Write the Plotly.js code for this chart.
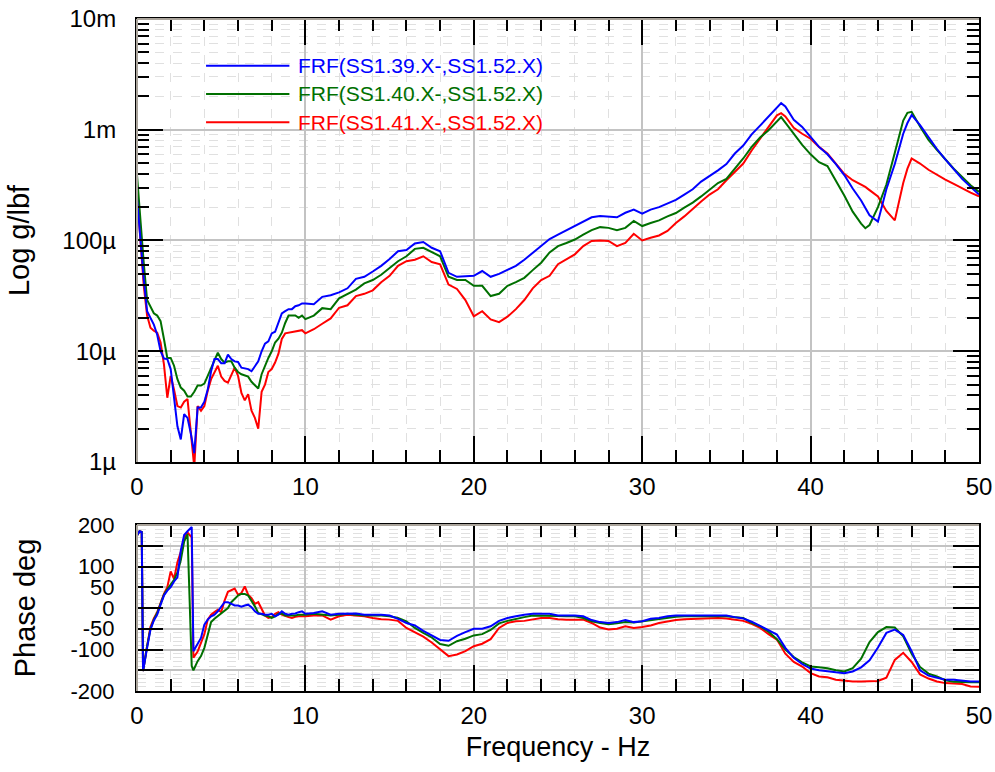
<!DOCTYPE html>
<html><head><meta charset="utf-8">
<script src="https://cdn.plot.ly/plotly-3.0.1.min.js"></script>
<style>html,body{margin:0;padding:0;background:#fff}</style>
</head><body><div id="chart" style="width:995px;height:772px"></div>
<script>
// ---------- data ----------
const magFreq = [0,0.2,0.4,0.6,0.8,1,1.2,1.4,1.6,1.8,2,2.2,2.4,2.6,2.8,3,3.2,3.4,3.6,3.8,4,4.2,4.4,4.6,4.8,5,5.2,5.4,5.6,5.8,6,6.2,6.4,6.6,6.8,7,7.2,7.4,7.6,7.8,8,8.2,8.4,8.6,8.8,9,9.2,9.4,9.6,9.8,10,
  10.5,11,11.5,12,12.5,13,13.5,14,14.5,15,15.5,16,16.5,17,17.5,18,18.5,19,19.5,20,20.5,21,21.5,22,22.5,23,23.5,24,24.5,25,25.5,26,26.5,27,27.5,28,28.5,29,29.5,30,
  30.5,31,31.5,32,32.5,33,33.5,34,34.5,35,35.5,36,36.5,37,37.5,38,38.25,38.5,39,39.5,40,40.5,41,41.5,42,42.5,43,43.25,43.5,44,44.5,45,45.5,45.75,46,46.5,47,47.5,48,48.5,49,49.5,50];

const magBlue = [2.43e-4,9.5e-5,4.5e-5,2.3e-5,2.0e-5,1.74e-5,1.41e-5,1.0e-5,8.6e-6,8.5e-6,6.9e-6,3.7e-6,2.1e-6,1.6e-6,2.7e-6,2.5e-6,1.8e-6,1.2e-6,3.1e-6,3.1e-6,3.5e-6,4.5e-6,6.6e-6,8.5e-6,8.5e-6,7.8e-6,7.8e-6,9.3e-6,8.5e-6,8.1e-6,8.0e-6,7.1e-6,7.0e-6,6.9e-6,6.6e-6,7.4e-6,8.1e-6,1.0e-5,1.17e-5,1.23e-5,1.45e-5,1.5e-5,1.8e-5,2.2e-5,2.3e-5,2.4e-5,2.4e-5,2.55e-5,2.6e-5,2.7e-5,2.7e-5,
  2.66e-5,3.1e-5,3.2e-5,3.4e-5,3.7e-5,4.5e-5,4.7e-5,5.25e-5,5.9e-5,6.8e-5,8.0e-5,8.2e-5,9.4e-5,9.7e-5,8.6e-5,8.0e-5,5.1e-5,4.7e-5,4.75e-5,4.8e-5,5.3e-5,4.7e-5,5.0e-5,5.4e-5,5.9e-5,6.7e-5,7.7e-5,8.9e-5,1.03e-4,1.13e-4,1.24e-4,1.35e-4,1.5e-4,1.62e-4,1.66e-4,1.64e-4,1.62e-4,1.78e-4,1.9e-4,1.75e-4,
  1.9e-4,2.0e-4,2.15e-4,2.33e-4,2.6e-4,2.9e-4,3.4e-4,3.8e-4,4.3e-4,4.9e-4,6.1e-4,7.2e-4,9.1e-4,1.09e-3,1.32e-3,1.58e-3,1.74e-3,1.62e-3,1.23e-3,1.06e-3,8.6e-4,7.0e-4,6.0e-4,4.9e-4,3.9e-4,2.95e-4,2.3e-4,1.97e-4,1.69e-4,1.48e-4,2.9e-4,4.9e-4,9.2e-4,1.15e-3,1.36e-3,1.1e-3,8.6e-4,6.7e-4,5.4e-4,4.45e-4,3.6e-4,3.05e-4,2.6e-4];

const magGreen = [3.9e-4,1.45e-4,6.3e-5,2.9e-5,2.5e-5,2.2e-5,2.1e-5,1.87e-5,1.29e-5,8.7e-6,8.7e-6,7.4e-6,5.6e-6,4.7e-6,4.4e-6,3.9e-6,3.9e-6,4.3e-6,4.9e-6,4.9e-6,5.1e-6,6.0e-6,7.1e-6,8.5e-6,9.7e-6,8.5e-6,7.9e-6,8.1e-6,8.1e-6,7.1e-6,6.5e-6,6.2e-6,6.0e-6,5.9e-6,5.3e-6,4.9e-6,4.6e-6,6.2e-6,7.4e-6,8.7e-6,1.0e-5,1.2e-5,1.3e-5,1.47e-5,1.8e-5,2.1e-5,2.1e-5,2.1e-5,2.0e-5,2.1e-5,1.95e-5,
  2.1e-5,2.45e-5,2.4e-5,3.0e-5,3.3e-5,3.6e-5,4.1e-5,4.4e-5,4.9e-5,5.7e-5,6.5e-5,7.2e-5,8.4e-5,8.6e-5,7.8e-5,7.2e-5,4.7e-5,4.4e-5,4.4e-5,3.9e-5,3.9e-5,3.15e-5,3.3e-5,3.9e-5,4.2e-5,4.6e-5,5.4e-5,6.3e-5,7.8e-5,8.9e-5,9.5e-5,1.02e-4,1.13e-4,1.24e-4,1.32e-4,1.3e-4,1.24e-4,1.3e-4,1.5e-4,1.35e-4,
  1.44e-4,1.52e-4,1.65e-4,1.77e-4,1.98e-4,2.2e-4,2.5e-4,2.9e-4,3.3e-4,3.6e-4,4.45e-4,5.5e-4,7.0e-4,8.5e-4,9.9e-4,1.2e-3,1.3e-3,1.16e-3,9.2e-4,7.3e-4,6.0e-4,5.1e-4,4.7e-4,3.5e-4,2.55e-4,1.82e-4,1.42e-4,1.29e-4,1.38e-4,2.0e-4,3.2e-4,6.2e-4,1.21e-3,1.42e-3,1.45e-3,1.07e-3,8.1e-4,6.6e-4,5.4e-4,4.45e-4,3.75e-4,3.15e-4,2.75e-4];

const magRed = [2.7e-4,9.5e-5,3.9e-5,2.1e-5,1.63e-5,1.53e-5,1.47e-5,1.2e-5,7.6e-6,3.8e-6,6.0e-6,4.5e-6,3.2e-6,3.1e-6,3.5e-6,3.7e-6,1.8e-6,9.0e-7,3.2e-6,2.9e-6,3.2e-6,4.4e-6,5.6e-6,6.5e-6,7.4e-6,5.9e-6,5.4e-6,5.2e-6,6.0e-6,7.1e-6,6.0e-6,4.2e-6,3.6e-6,4.1e-6,2.9e-6,2.5e-6,2.0e-6,4.3e-6,5.0e-6,6.5e-6,6.9e-6,7.9e-6,9.5e-6,1.29e-5,1.45e-5,1.47e-5,1.47e-5,1.5e-5,1.52e-5,1.55e-5,1.45e-5,
  1.58e-5,1.77e-5,1.98e-5,2.47e-5,2.6e-5,3.15e-5,3.3e-5,3.55e-5,4.2e-5,4.8e-5,5.9e-5,6.5e-5,6.7e-5,7.2e-5,6.4e-5,6.1e-5,4.0e-5,3.65e-5,2.9e-5,2.07e-5,2.3e-5,1.94e-5,1.83e-5,2.05e-5,2.4e-5,2.9e-5,3.7e-5,4.4e-5,4.8e-5,6.1e-5,6.8e-5,7.5e-5,8.9e-5,9.9e-5,1.0e-4,9.9e-5,8.9e-5,9.5e-5,1.15e-4,1.0e-4,
  1.06e-4,1.11e-4,1.22e-4,1.44e-4,1.65e-4,1.94e-4,2.25e-4,2.6e-4,2.9e-4,3.5e-4,4.2e-4,4.95e-4,6.5e-4,8.3e-4,1.04e-3,1.35e-3,1.41e-3,1.32e-3,1.04e-3,9.2e-4,8.3e-4,7.0e-4,6.1e-4,4.95e-4,4.0e-4,3.5e-4,3.2e-4,3.05e-4,2.85e-4,2.5e-4,1.85e-4,1.52e-4,3.3e-4,4.45e-4,5.5e-4,4.95e-4,4.35e-4,3.9e-4,3.55e-4,3.25e-4,2.95e-4,2.7e-4,2.5e-4];

const phaseFreq = [0,0.15,0.28,0.36,0.6,0.8,1,1.2,1.4,1.6,1.8,2,2.2,2.4,2.6,2.8,3,3.25,3.35,
  3.6,3.8,4,4.2,4.4,4.6,4.8,5,5.2,5.4,5.6,5.8,6,6.2,6.4,6.6,6.8,7,7.2,7.4,7.6,7.8,8,8.2,8.4,8.6,8.8,9,9.2,9.4,9.6,9.8,10,
  10.5,11,11.5,12,12.5,13,13.5,14,14.5,15,15.5,16,16.5,17,17.5,18,18.5,19,19.5,20,20.5,21,21.5,22,22.5,23,23.5,24,24.5,25,
  25.5,26,26.5,27,27.5,28,28.5,29,29.5,30,30.5,31,31.5,32,32.5,33,33.5,34,34.5,35,35.5,36,36.5,37,37.5,38,38.5,39,39.5,40,
  40.5,41,41.5,42,42.5,43,43.5,44,44.5,45,45.5,46,46.5,47,47.5,48,48.5,49,49.5,50];

const phaseBlue = [175,185,183,-152,-96,-52,-30,-16,8,30,42,50,64,74,138,176,185,195,-104,
  -88,-72,-40,-28,-20,-16,-8,2,14,14,10,6,6,3,6,8,2,-8,-14,-14,-16,-16,-14,-20,-16,-8,-14,-16,-14,-13,-10,-8,-14,
  -12,-8,-16,-14,-14,-13,-16,-16,-16,-18,-26,-36,-42,-55,-66,-77,-79,-67,-58,-50,-50,-44,-31,-24,-20,-16,-14,-14,-14,-18,
  -18,-18,-20,-29,-34,-36,-34,-29,-34,-32,-26,-24,-20,-18,-18,-18,-18,-18,-18,-18,-22,-25,-33,-43,-55,-64,-96,-120,-135,-146,
  -150,-153,-155,-157,-153,-143,-126,-95,-60,-52,-65,-104,-150,-163,-168,-173,-173,-175,-177,-177];

const phaseGreen = [175,185,183,-152,-92,-50,-28,-12,10,32,45,56,68,85,115,160,178,-140,-150,
  -128,-116,-96,-64,-34,-26,-20,-14,-6,0,14,22,30,34,34,30,18,4,-12,-16,-18,-20,-24,-20,-14,-13,-18,-18,-18,-18,-16,-16,-16,
  -14,-16,-18,-16,-14,-16,-18,-18,-18,-20,-24,-32,-48,-60,-71,-87,-91,-80,-74,-66,-63,-53,-37,-31,-26,-22,-18,-18,-18,-19,
  -20,-20,-24,-32,-36,-39,-37,-34,-35,-32,-29,-27,-24,-21,-20,-20,-20,-20,-20,-20,-22,-24,-36,-44,-57,-75,-100,-118,-131,-141,
  -143,-145,-150,-153,-145,-122,-82,-58,-46,-47,-68,-110,-142,-158,-165,-174,-178,-179,-179,-179];

const phaseRed = [175,185,183,-152,-92,-45,-25,-10,12,34,50,88,70,110,135,168,182,170,-120,
  -105,-84,-63,-28,-16,-10,-4,-10,18,39,44,47,32,36,52,32,24,10,14,-4,-18,-24,-22,-14,-10,-16,-20,-22,-24,-21,-20,-20,-20,
  -18,-18,-28,-20,-16,-18,-20,-24,-27,-28,-31,-48,-58,-69,-83,-99,-116,-112,-104,-92,-86,-75,-48,-36,-32,-31,-27,-24,-24,-27,
  -28,-28,-28,-36,-47,-52,-50,-44,-48,-46,-42,-36,-32,-29,-27,-26,-26,-25,-24,-25,-28,-31,-38,-48,-63,-76,-110,-130,-141,-157,
  -165,-167,-173,-175,-177,-177,-177,-176,-168,-125,-108,-130,-160,-170,-177,-181,-182,-183,-189,-190];

const seriesNames = ['FRF(SS1.39.X-,SS1.52.X)','FRF(SS1.40.X-,SS1.52.X)','FRF(SS1.41.X-,SS1.52.X)'];
const magTickVals = [1e-6,1e-5,1e-4,1e-3,1e-2];
const magTickText = ['1\u00b5','10\u00b5','100\u00b5','1m','10m'];
const phaseTickVals = [-200,-150,-100,-50,0,50,100,150,200];
const phaseTickText = ['-200','','-100','-50','0','50','100','','200'];
const freqTickVals = [0,10,20,30,40,50];

// ---------- styling ----------
const COLORS = ['#0000ff','#007000','#ff0000'];
const FONT = 'Arial, "Liberation Sans", sans-serif';
const GRID_MAJOR = '#c3c3c3';
const GRID_MINOR = '#e0e0e0';
const FRAME_GRAY = '#aaa49b';

const magSeries = [magBlue, magGreen, magRed];
const phaseSeries = [phaseBlue, phaseGreen, phaseRed];
const traces = [];
[2,1,0].forEach(i => {
  traces.push({x: magFreq, y: magSeries[i], type: 'scatter', mode: 'lines', name: seriesNames[i],
    xaxis: 'x', yaxis: 'y', line: {color: COLORS[i], width: 2}, showlegend: false});
});
[2,1,0].forEach(i => {
  traces.push({x: phaseFreq, y: phaseSeries[i], type: 'scatter', mode: 'lines', name: seriesNames[i],
    xaxis: 'x2', yaxis: 'y2', line: {color: COLORS[i], width: 2}, showlegend: false});
});

function xAxis(anchor, withTitle) {
  const a = {
    anchor: anchor, range: [0, 50], tickmode: 'array', tickvals: freqTickVals,
    ticks: 'inside', ticklen: 26, tickwidth: 2, tickcolor: '#000',
    showline: true, linecolor: '#000', linewidth: 2, mirror: 'ticks',
    showgrid: true, gridcolor: GRID_MAJOR, gridwidth: 2, zeroline: false,
    tickfont: {family: FONT, size: 24, color: '#000'}, ticklabelstandoff: 2,
    minor: {tickmode: 'linear', tick0: 0, dtick: 2, ticks: 'inside', ticklen: 12, tickwidth: 2, tickcolor: '#000',
      showgrid: true, gridcolor: GRID_MINOR, griddash: 'dash', gridwidth: 1}
  };
  if (withTitle) a.title = {text: 'Frequency - Hz', font: {family: FONT, size: 27, color: '#000'}, standoff: 9};
  return a;
}

// short outward stubs of the major ticks (they cross the frame on the bottom and left sides)
function stubAxis(base, extra) {
  return Object.assign({
    ticks: 'outside', ticklen: 9, tickwidth: 2, tickcolor: '#000',
    showticklabels: false, showgrid: false, showline: false, zeroline: false
  }, base, extra);
}

const layout = {
  width: 995, height: 772,
  margin: {l: 137, r: 16, t: 19, b: 81},
  paper_bgcolor: '#fff', plot_bgcolor: '#fff',
  showlegend: false,
  xaxis: xAxis('y', false),
  xaxis2: xAxis('y2', true),
  yaxis: {
    domain: [0.3408, 1], type: 'log', range: [-6, -2],
    tickmode: 'array', tickvals: magTickVals, ticktext: magTickText,
    ticks: 'inside', ticklen: 26, tickwidth: 2, tickcolor: '#000',
    showline: true, linecolor: '#000', linewidth: 2, mirror: 'ticks',
    showgrid: true, gridcolor: GRID_MAJOR, gridwidth: 2, zeroline: false,
    tickfont: {family: FONT, size: 24, color: '#000'}, ticklabelstandoff: 14,
    minor: {dtick: 'D1', ticks: 'inside', ticklen: 12, tickwidth: 2, tickcolor: '#000',
      showgrid: true, gridcolor: GRID_MINOR, griddash: 'dash', gridwidth: 1},
    title: {text: 'Log g/lbf', font: {family: FONT, size: 29, color: '#000'}, standoff: 24}
  },
  yaxis2: {
    domain: [0, 0.247], range: [-200, 200],
    tickmode: 'array', tickvals: phaseTickVals, ticktext: phaseTickText,
    ticks: 'inside', ticklen: 26, tickwidth: 2, tickcolor: '#000',
    showline: true, linecolor: '#000', linewidth: 2, mirror: 'ticks',
    showgrid: true, gridcolor: GRID_MAJOR, gridwidth: 2, zeroline: false,
    tickfont: {family: FONT, size: 22, color: '#000'}, ticklabelstandoff: 16,
    minor: {tickmode: 'linear', tick0: 0, dtick: 10, ticks: '', showgrid: true,
      gridcolor: GRID_MINOR, griddash: 'dash', gridwidth: 1},
    title: {text: 'Phase deg', font: {family: FONT, size: 29, color: '#000'}, standoff: 26}
  },
  xaxis3: stubAxis({range: [0, 50], tickmode: 'array', tickvals: freqTickVals}, {overlaying: 'x', anchor: 'y', side: 'bottom'}),
  xaxis4: stubAxis({range: [0, 50], tickmode: 'array', tickvals: freqTickVals}, {overlaying: 'x2', anchor: 'y2', side: 'bottom'}),
  yaxis3: stubAxis({type: 'log', range: [-6, -2], tickmode: 'array', tickvals: magTickVals}, {overlaying: 'y', anchor: 'x', side: 'left'}),
  yaxis4: stubAxis({range: [-200, 200], tickmode: 'array', tickvals: phaseTickVals}, {overlaying: 'y2', anchor: 'x2', side: 'left'}),
  shapes: [],
  annotations: []
};

// frame: light top/left edges
[['x','y'],['x2','y2']].forEach(([xa, ya]) => {
  layout.shapes.push({type: 'line', xref: xa + ' domain', yref: ya + ' domain', x0: 0, x1: 1, y0: 1, y1: 1,
    line: {color: FRAME_GRAY, width: 2}, layer: 'above'});
  layout.shapes.push({type: 'line', xref: xa + ' domain', yref: ya + ' domain', x0: 0, x1: 0, y0: 0, y1: 1,
    line: {color: FRAME_GRAY, width: 2}, layer: 'above'});
});

// in-plot legend
const legendRows = [0.8946, 0.8307, 0.7668];
seriesNames.forEach((name, i) => {
  layout.shapes.push({type: 'line', xref: 'x domain', yref: 'y domain', x0: 0.082, x1: 0.181,
    y0: legendRows[i], y1: legendRows[i], line: {color: COLORS[i], width: 2}, layer: 'above'});
  layout.annotations.push({xref: 'x domain', yref: 'y domain', x: 0.189, y: legendRows[i],
    xanchor: 'left', yanchor: 'middle', showarrow: false, text: name,
    font: {family: FONT, size: 21, color: COLORS[i]}});
});

Plotly.newPlot('chart', traces, layout, {staticPlot: true, displayModeBar: false});
</script>
</body></html>
